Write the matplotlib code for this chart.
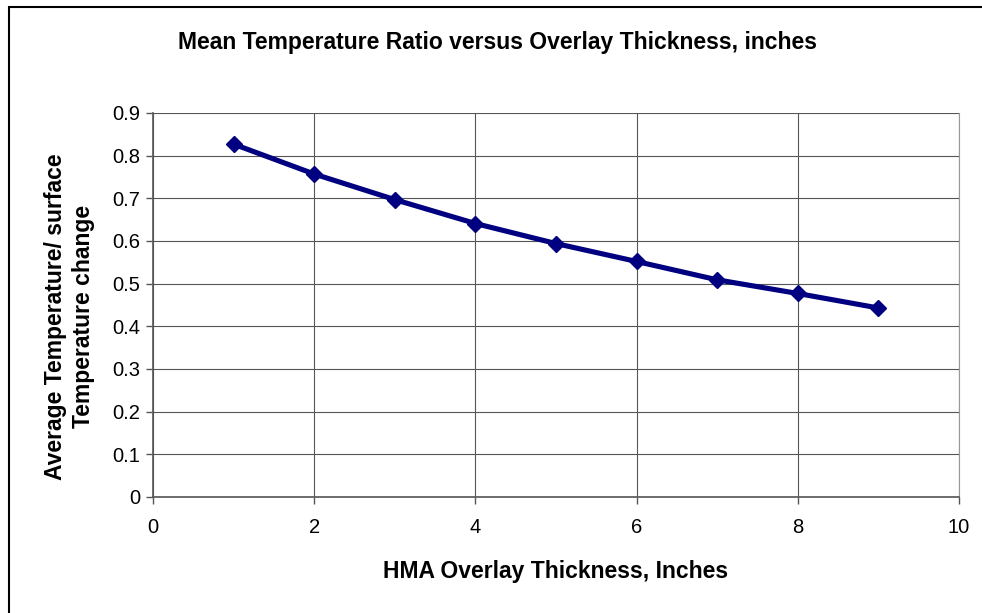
import numpy as np
import matplotlib.pyplot as plt
from matplotlib.patches import Rectangle

#%% Dados
thickness = [1, 2, 3, 4, 5, 6, 7, 8, 9]
temp_ratio = [0.827, 0.757, 0.697, 0.641, 0.594, 0.552, 0.509, 0.477, 0.443]
x_ticks = [0, 2, 4, 6, 8, 10]
y_ticks = [0, 0.1, 0.2, 0.3, 0.4, 0.5, 0.6, 0.7, 0.8, 0.9]

plt.rcParams['font.family'] = ['Liberation Sans', 'DejaVu Sans']

#%% Figura
fig = plt.figure(figsize=(9.82, 6.13), dpi=100)
W, H = 982, 613
# moldura do grafico (estilo Excel)
fig.patches.append(Rectangle((9 / W, -0.05), 1.2, (H - 7) / H + 0.05,
                             transform=fig.transFigure, fill=False,
                             edgecolor='black', linewidth=1.5))

ax = fig.add_axes([153 / W, 1 - 497 / H, (959 - 153) / W, (497 - 113) / H])
ax.plot(thickness, temp_ratio, color='#000080', linewidth=3.7,
        marker='D', markersize=8, markerfacecolor='#000080',
        markeredgecolor='#000080', zorder=3)

ax.set_xlim(0, 10)
ax.set_ylim(0, 0.9)
ax.set_xticks(x_ticks)
ax.set_xticklabels([str(t) for t in x_ticks])
ax.set_yticks(y_ticks)
ax.set_yticklabels(['0'] + ['%.1f' % t for t in y_ticks[1:]])
ax.grid(True, color='#555555', linewidth=0.8)
ax.set_axisbelow(True)

for s in ['left', 'bottom']:
    ax.spines[s].set_color('#555555')
    ax.spines[s].set_linewidth(1.2)
ax.spines['right'].set_color('#999999')
ax.spines['top'].set_visible(False)
ax.tick_params(direction='out', length=5, width=1, color='#555555',
               labelsize=14.5, pad=4)
ax.tick_params(axis='x', pad=10)

ax.set_xlabel('HMA Overlay Thickness, Inches', fontsize=16.5,
              fontweight='bold', labelpad=17)
ax.set_ylabel('Average Temperature/ surface\nTemperature change',
              fontsize=16.5, fontweight='bold', linespacing=1.25)
ax.yaxis.set_label_coords(-0.072, 0.469)
fig.text(498 / W, 1 - 43 / H,
         'Mean Temperature Ratio versus Overlay Thickness, inches',
         ha='center', va='center', fontsize=16.5, fontweight='bold')

fig.savefig('out.png', dpi=100)
